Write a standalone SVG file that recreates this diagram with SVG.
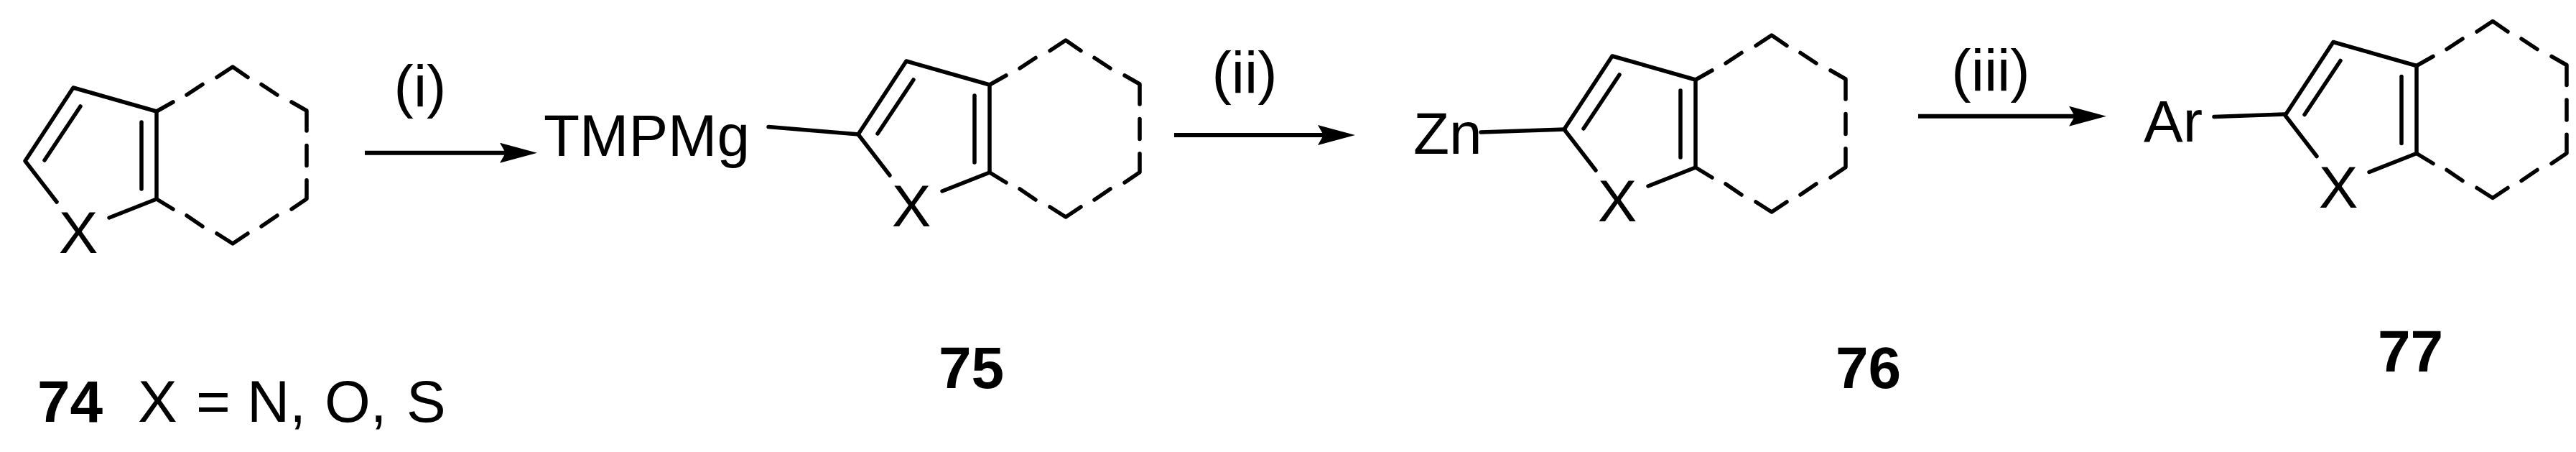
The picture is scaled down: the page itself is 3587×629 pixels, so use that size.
<svg xmlns="http://www.w3.org/2000/svg" width="3587" height="629" viewBox="0 0 3587 629">
<style>
text{font-family:"Liberation Sans",Arial,sans-serif;font-size:82px;fill:#000}
.b{font-weight:bold}
.m{text-anchor:middle}
.bond{fill:none;stroke:#000;stroke-width:5.5;stroke-linecap:round;stroke-linejoin:round}
.arrow{fill:none;stroke:#000;stroke-width:6}
</style>
<defs>
<marker id="head" markerUnits="userSpaceOnUse" markerWidth="52" markerHeight="28" viewBox="0 0 52 28" refX="8" refY="14" orient="auto"><path d="M0,0L52,14L0,28L8,14Z" fill="#000"/></marker>
<g id="core" class="bond">
<path d="M79,281L35,224L102,122L218,155V277L152,303"/>
<path d="M112,148L62,223M197,170V263"/>
<path d="M218,155L241,142M260,132L282,117.5M302,107.5L324,93L345,107.5M364,117.5L386,132M406,142L427,154V182M427,202.6V230.6M427,250.7V276.8L406,291M386,300L364,315M345,325L324,339L302,325M282,315L260,300M241,291L218,277"/>
</g>
</defs>
<rect width="3587" height="629" fill="#fff"/>
<g id="connectors">
<path class="arrow" marker-end="url(#head)" d="M508,212.7H704"/>
<path class="arrow" marker-end="url(#head)" d="M1635,188H1843"/>
<path class="arrow" marker-end="url(#head)" d="M2671,161.7H2889"/>
</g>
<g id="mol74"><use href="#core"/><text class="m" x="109" y="352">X</text></g>
<g id="mol75"><use href="#core" x="1160" y="-37"/><text class="m" x="1269" y="315">X</text><text x="757" y="217">TMPMg</text><path class="bond" d="M1070,176.5L1196,187"/></g>
<g id="mol76"><use href="#core" x="2143" y="-44"/><text class="m" x="2252" y="308">X</text><text x="1968" y="214">Zn</text><path class="bond" d="M2062,184L2179,180"/></g>
<g id="mol77"><use href="#core" x="3147" y="-63.5"/><text class="m" x="3256" y="289">X</text><text x="2985" y="197">Ar</text><path class="bond" d="M3083,162.5L3181,159"/></g>
<g id="conditions">
<text class="m" x="585" y="148">(i)</text>
<text class="m" x="1733" y="129">(ii)</text>
<text class="m" x="2772" y="125.6">(iii)</text>
</g>
<g id="labels">
<text x="52" y="586.5"><tspan class="b">74</tspan><tspan x="192">X</tspan><tspan x="273">=</tspan><tspan x="344">N,</tspan><tspan x="452">O,</tspan><tspan x="566">S</tspan></text>
<text class="b" x="1307" y="539.5">75</text>
<text class="b" x="2556" y="539.5">76</text>
<text class="b" x="3311" y="516.6">77</text>
</g>
</svg>
